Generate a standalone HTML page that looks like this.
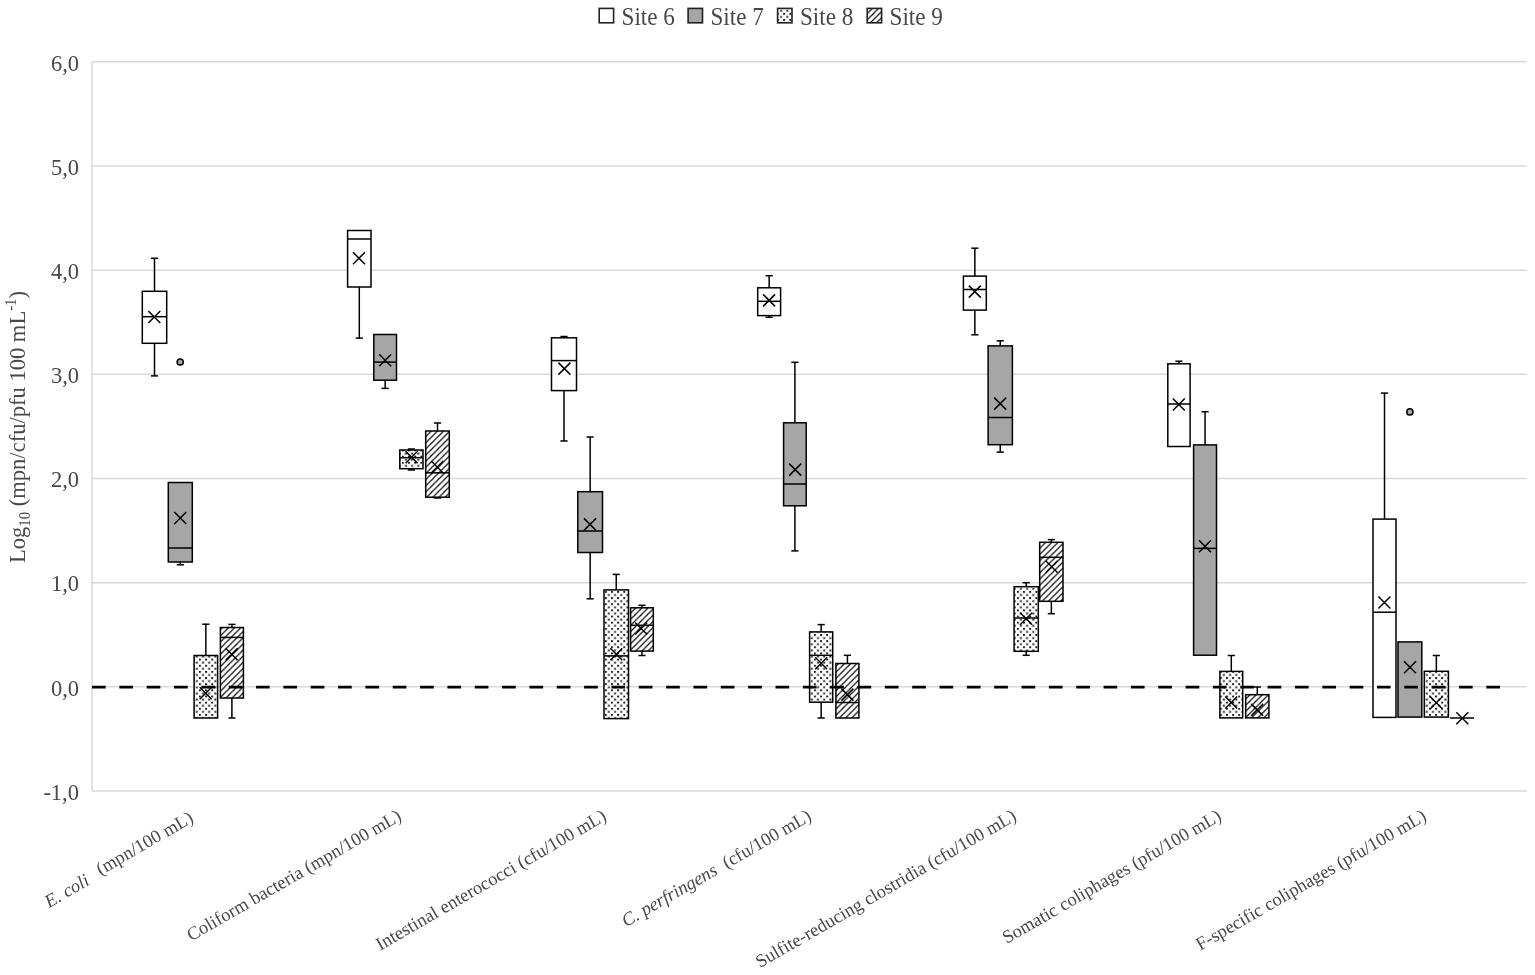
<!DOCTYPE html>
<html><head><meta charset="utf-8"><title>Box plot</title>
<style>
html,body{margin:0;padding:0;background:#fff;}
body{width:1535px;height:975px;overflow:hidden;}
svg{display:block;}
text{font-family:'Liberation Serif', 'Times New Roman', serif;fill:#484848;}
</style></head><body>
<svg width="1535" height="975" viewBox="0 0 1535 975">
<defs>
<pattern id="dots" patternUnits="userSpaceOnUse" x="2.175" y="0.6" width="6.15" height="6.15">
<rect width="6.15" height="6.15" fill="#fff"/>
<rect x="0" y="0" width="1.9" height="1.9" fill="#1a1a1a"/>
<rect x="3.075" y="3.075" width="1.9" height="1.9" fill="#1a1a1a"/>
</pattern>
<pattern id="diag" patternUnits="userSpaceOnUse" x="1.4" width="6.15" height="6.15">
<rect width="6.15" height="6.15" fill="#fff"/>
<path d="M-1,7.15 L7.15,-1 M-3,3 L3,-3 M3.15,9.15 L9.15,3.15" stroke="#000" stroke-width="1.15"/>
</pattern>
</defs>
<rect width="1535" height="975" fill="#fff"/>

<line x1="92.0" y1="791.01" x2="1527.0" y2="791.01" stroke="#d9d9d9" stroke-width="1.5"/>
<line x1="92.0" y1="686.84" x2="1527.0" y2="686.84" stroke="#d9d9d9" stroke-width="1.5"/>
<line x1="92.0" y1="582.67" x2="1527.0" y2="582.67" stroke="#d9d9d9" stroke-width="1.5"/>
<line x1="92.0" y1="478.50" x2="1527.0" y2="478.50" stroke="#d9d9d9" stroke-width="1.5"/>
<line x1="92.0" y1="374.33" x2="1527.0" y2="374.33" stroke="#d9d9d9" stroke-width="1.5"/>
<line x1="92.0" y1="270.16" x2="1527.0" y2="270.16" stroke="#d9d9d9" stroke-width="1.5"/>
<line x1="92.0" y1="165.99" x2="1527.0" y2="165.99" stroke="#d9d9d9" stroke-width="1.5"/>
<line x1="92.0" y1="61.82" x2="1527.0" y2="61.82" stroke="#d9d9d9" stroke-width="1.5"/>
<line x1="92.0" y1="61.82" x2="92.0" y2="791.01" stroke="#d9d9d9" stroke-width="1.5"/>
<text x="79" y="799.81" font-size="22.5" text-anchor="end">-1,0</text>
<text x="79" y="695.64" font-size="22.5" text-anchor="end">0,0</text>
<text x="79" y="591.47" font-size="22.5" text-anchor="end">1,0</text>
<text x="79" y="487.30" font-size="22.5" text-anchor="end">2,0</text>
<text x="79" y="383.13" font-size="22.5" text-anchor="end">3,0</text>
<text x="79" y="278.96" font-size="22.5" text-anchor="end">4,0</text>
<text x="79" y="174.79" font-size="22.5" text-anchor="end">5,0</text>
<text x="79" y="70.62" font-size="22.5" text-anchor="end">6,0</text>
<text transform="translate(24.6,427) rotate(-90) scale(0.94,1)" font-size="24" text-anchor="middle">Log<tspan font-size="15.8" dy="5.5">10</tspan><tspan dy="-5.5"> (mpn/cfu/pfu 100 mL</tspan><tspan font-size="15.8" dy="-8.7">-1</tspan><tspan dy="8.7">)</tspan></text>
<line x1="154.50" y1="258.30" x2="154.50" y2="291.30" stroke="#000" stroke-width="1.5"/>
<line x1="150.90" y1="258.30" x2="158.10" y2="258.30" stroke="#000" stroke-width="1.5"/>
<line x1="154.50" y1="343.30" x2="154.50" y2="375.90" stroke="#000" stroke-width="1.5"/>
<line x1="150.90" y1="375.90" x2="158.10" y2="375.90" stroke="#000" stroke-width="1.5"/>
<rect x="142.30" y="291.30" width="24.40" height="52.00" fill="#ffffff" stroke="#000" stroke-width="1.5"/>
<line x1="142.30" y1="316.70" x2="166.70" y2="316.70" stroke="#000" stroke-width="1.5"/>
<path d="M148.30,311.00L160.30,323.00M148.30,323.00L160.30,311.00" stroke="#000" stroke-width="1.5" fill="none"/>
<line x1="180.30" y1="562.00" x2="180.30" y2="564.80" stroke="#000" stroke-width="1.5"/>
<line x1="176.70" y1="564.80" x2="183.90" y2="564.80" stroke="#000" stroke-width="1.5"/>
<rect x="168.30" y="482.50" width="24.00" height="79.50" fill="#a6a6a6" stroke="#000" stroke-width="1.5"/>
<line x1="168.30" y1="548.00" x2="192.30" y2="548.00" stroke="#000" stroke-width="1.5"/>
<path d="M174.30,512.00L186.30,524.00M174.30,524.00L186.30,512.00" stroke="#000" stroke-width="1.5" fill="none"/>
<line x1="205.85" y1="624.20" x2="205.85" y2="655.50" stroke="#000" stroke-width="1.5"/>
<line x1="202.25" y1="624.20" x2="209.45" y2="624.20" stroke="#000" stroke-width="1.5"/>
<rect x="194.10" y="655.50" width="23.50" height="62.50" fill="url(#dots)" stroke="#000" stroke-width="1.5"/>
<path d="M199.70,687.20L211.70,699.20M199.70,699.20L211.70,687.20" stroke="#000" stroke-width="1.5" fill="none"/>
<line x1="231.90" y1="624.40" x2="231.90" y2="627.50" stroke="#000" stroke-width="1.5"/>
<line x1="228.30" y1="624.40" x2="235.50" y2="624.40" stroke="#000" stroke-width="1.5"/>
<line x1="231.90" y1="698.00" x2="231.90" y2="718.00" stroke="#000" stroke-width="1.5"/>
<line x1="228.30" y1="718.00" x2="235.50" y2="718.00" stroke="#000" stroke-width="1.5"/>
<rect x="220.40" y="627.50" width="23.00" height="70.50" fill="url(#diag)" stroke="#000" stroke-width="1.5"/>
<line x1="220.40" y1="637.40" x2="243.40" y2="637.40" stroke="#000" stroke-width="1.5"/>
<path d="M225.60,648.30L237.60,660.30M225.60,660.30L237.60,648.30" stroke="#000" stroke-width="1.5" fill="none"/>
<line x1="359.30" y1="287.00" x2="359.30" y2="338.10" stroke="#000" stroke-width="1.5"/>
<line x1="355.70" y1="338.10" x2="362.90" y2="338.10" stroke="#000" stroke-width="1.5"/>
<rect x="347.60" y="230.50" width="23.40" height="56.50" fill="#ffffff" stroke="#000" stroke-width="1.5"/>
<line x1="347.60" y1="239.00" x2="371.00" y2="239.00" stroke="#000" stroke-width="1.5"/>
<path d="M353.00,252.20L365.00,264.20M353.00,264.20L365.00,252.20" stroke="#000" stroke-width="1.5" fill="none"/>
<line x1="385.15" y1="380.20" x2="385.15" y2="388.40" stroke="#000" stroke-width="1.5"/>
<line x1="381.55" y1="388.40" x2="388.75" y2="388.40" stroke="#000" stroke-width="1.5"/>
<rect x="373.80" y="334.50" width="22.70" height="45.70" fill="#a6a6a6" stroke="#000" stroke-width="1.5"/>
<line x1="373.80" y1="362.10" x2="396.50" y2="362.10" stroke="#000" stroke-width="1.5"/>
<path d="M379.20,354.30L391.20,366.30M379.20,366.30L391.20,354.30" stroke="#000" stroke-width="1.5" fill="none"/>
<line x1="411.40" y1="449.00" x2="411.40" y2="450.00" stroke="#000" stroke-width="1.5"/>
<line x1="407.80" y1="449.00" x2="415.00" y2="449.00" stroke="#000" stroke-width="1.5"/>
<line x1="411.40" y1="468.70" x2="411.40" y2="470.00" stroke="#000" stroke-width="1.5"/>
<line x1="407.80" y1="470.00" x2="415.00" y2="470.00" stroke="#000" stroke-width="1.5"/>
<rect x="399.80" y="450.00" width="23.20" height="18.70" fill="url(#dots)" stroke="#000" stroke-width="1.5"/>
<line x1="399.80" y1="457.70" x2="423.00" y2="457.70" stroke="#000" stroke-width="1.5"/>
<path d="M405.60,451.20L417.60,463.20M405.60,463.20L417.60,451.20" stroke="#000" stroke-width="1.5" fill="none"/>
<line x1="437.50" y1="423.00" x2="437.50" y2="431.00" stroke="#000" stroke-width="1.5"/>
<line x1="433.90" y1="423.00" x2="441.10" y2="423.00" stroke="#000" stroke-width="1.5"/>
<line x1="437.50" y1="497.20" x2="437.50" y2="498.00" stroke="#000" stroke-width="1.5"/>
<line x1="433.90" y1="498.00" x2="441.10" y2="498.00" stroke="#000" stroke-width="1.5"/>
<rect x="425.70" y="431.00" width="23.60" height="66.20" fill="url(#diag)" stroke="#000" stroke-width="1.5"/>
<line x1="425.70" y1="472.80" x2="449.30" y2="472.80" stroke="#000" stroke-width="1.5"/>
<path d="M431.20,461.00L443.20,473.00M431.20,473.00L443.20,461.00" stroke="#000" stroke-width="1.5" fill="none"/>
<line x1="564.00" y1="336.50" x2="564.00" y2="337.80" stroke="#000" stroke-width="1.5"/>
<line x1="560.40" y1="336.50" x2="567.60" y2="336.50" stroke="#000" stroke-width="1.5"/>
<line x1="564.00" y1="390.60" x2="564.00" y2="441.00" stroke="#000" stroke-width="1.5"/>
<line x1="560.40" y1="441.00" x2="567.60" y2="441.00" stroke="#000" stroke-width="1.5"/>
<rect x="551.50" y="337.80" width="25.00" height="52.80" fill="#ffffff" stroke="#000" stroke-width="1.5"/>
<line x1="551.50" y1="360.60" x2="576.50" y2="360.60" stroke="#000" stroke-width="1.5"/>
<path d="M558.40,362.60L570.40,374.60M558.40,374.60L570.40,362.60" stroke="#000" stroke-width="1.5" fill="none"/>
<line x1="590.15" y1="437.00" x2="590.15" y2="491.70" stroke="#000" stroke-width="1.5"/>
<line x1="586.55" y1="437.00" x2="593.75" y2="437.00" stroke="#000" stroke-width="1.5"/>
<line x1="590.15" y1="552.50" x2="590.15" y2="598.80" stroke="#000" stroke-width="1.5"/>
<line x1="586.55" y1="598.80" x2="593.75" y2="598.80" stroke="#000" stroke-width="1.5"/>
<rect x="577.80" y="491.70" width="24.70" height="60.80" fill="#a6a6a6" stroke="#000" stroke-width="1.5"/>
<line x1="577.80" y1="531.00" x2="602.50" y2="531.00" stroke="#000" stroke-width="1.5"/>
<path d="M584.00,518.40L596.00,530.40M584.00,530.40L596.00,518.40" stroke="#000" stroke-width="1.5" fill="none"/>
<line x1="616.25" y1="574.40" x2="616.25" y2="589.90" stroke="#000" stroke-width="1.5"/>
<line x1="612.65" y1="574.40" x2="619.85" y2="574.40" stroke="#000" stroke-width="1.5"/>
<rect x="604.00" y="589.90" width="24.50" height="128.70" fill="url(#dots)" stroke="#000" stroke-width="1.5"/>
<line x1="604.00" y1="655.90" x2="628.50" y2="655.90" stroke="#000" stroke-width="1.5"/>
<path d="M610.30,648.30L622.30,660.30M610.30,660.30L622.30,648.30" stroke="#000" stroke-width="1.5" fill="none"/>
<line x1="641.95" y1="605.30" x2="641.95" y2="607.80" stroke="#000" stroke-width="1.5"/>
<line x1="638.35" y1="605.30" x2="645.55" y2="605.30" stroke="#000" stroke-width="1.5"/>
<line x1="641.95" y1="651.10" x2="641.95" y2="655.50" stroke="#000" stroke-width="1.5"/>
<line x1="638.35" y1="655.50" x2="645.55" y2="655.50" stroke="#000" stroke-width="1.5"/>
<rect x="630.60" y="607.80" width="22.70" height="43.30" fill="url(#diag)" stroke="#000" stroke-width="1.5"/>
<line x1="630.60" y1="625.30" x2="653.30" y2="625.30" stroke="#000" stroke-width="1.5"/>
<path d="M635.20,622.50L647.20,634.50M635.20,634.50L647.20,622.50" stroke="#000" stroke-width="1.5" fill="none"/>
<line x1="769.15" y1="275.70" x2="769.15" y2="287.80" stroke="#000" stroke-width="1.5"/>
<line x1="765.55" y1="275.70" x2="772.75" y2="275.70" stroke="#000" stroke-width="1.5"/>
<line x1="769.15" y1="315.60" x2="769.15" y2="317.30" stroke="#000" stroke-width="1.5"/>
<line x1="765.55" y1="317.30" x2="772.75" y2="317.30" stroke="#000" stroke-width="1.5"/>
<rect x="757.70" y="287.80" width="22.90" height="27.80" fill="#ffffff" stroke="#000" stroke-width="1.5"/>
<line x1="757.70" y1="301.30" x2="780.60" y2="301.30" stroke="#000" stroke-width="1.5"/>
<path d="M763.10,294.40L775.10,306.40M763.10,306.40L775.10,294.40" stroke="#000" stroke-width="1.5" fill="none"/>
<line x1="794.90" y1="362.30" x2="794.90" y2="422.80" stroke="#000" stroke-width="1.5"/>
<line x1="791.30" y1="362.30" x2="798.50" y2="362.30" stroke="#000" stroke-width="1.5"/>
<line x1="794.90" y1="505.80" x2="794.90" y2="550.90" stroke="#000" stroke-width="1.5"/>
<line x1="791.30" y1="550.90" x2="798.50" y2="550.90" stroke="#000" stroke-width="1.5"/>
<rect x="783.60" y="422.80" width="22.60" height="83.00" fill="#a6a6a6" stroke="#000" stroke-width="1.5"/>
<line x1="783.60" y1="484.00" x2="806.20" y2="484.00" stroke="#000" stroke-width="1.5"/>
<path d="M789.20,463.60L801.20,475.60M789.20,475.60L801.20,463.60" stroke="#000" stroke-width="1.5" fill="none"/>
<line x1="821.15" y1="624.60" x2="821.15" y2="631.90" stroke="#000" stroke-width="1.5"/>
<line x1="817.55" y1="624.60" x2="824.75" y2="624.60" stroke="#000" stroke-width="1.5"/>
<line x1="821.15" y1="702.20" x2="821.15" y2="718.00" stroke="#000" stroke-width="1.5"/>
<line x1="817.55" y1="718.00" x2="824.75" y2="718.00" stroke="#000" stroke-width="1.5"/>
<rect x="809.60" y="631.90" width="23.10" height="70.30" fill="url(#dots)" stroke="#000" stroke-width="1.5"/>
<line x1="809.60" y1="655.30" x2="832.70" y2="655.30" stroke="#000" stroke-width="1.5"/>
<path d="M815.20,657.30L827.20,669.30M815.20,669.30L827.20,657.30" stroke="#000" stroke-width="1.5" fill="none"/>
<line x1="847.40" y1="655.30" x2="847.40" y2="663.50" stroke="#000" stroke-width="1.5"/>
<line x1="843.80" y1="655.30" x2="851.00" y2="655.30" stroke="#000" stroke-width="1.5"/>
<rect x="835.90" y="663.50" width="23.00" height="54.50" fill="url(#diag)" stroke="#000" stroke-width="1.5"/>
<line x1="835.90" y1="702.50" x2="858.90" y2="702.50" stroke="#000" stroke-width="1.5"/>
<path d="M841.40,688.60L853.40,700.60M841.40,700.60L853.40,688.60" stroke="#000" stroke-width="1.5" fill="none"/>
<line x1="974.85" y1="248.20" x2="974.85" y2="276.10" stroke="#000" stroke-width="1.5"/>
<line x1="971.25" y1="248.20" x2="978.45" y2="248.20" stroke="#000" stroke-width="1.5"/>
<line x1="974.85" y1="310.10" x2="974.85" y2="334.80" stroke="#000" stroke-width="1.5"/>
<line x1="971.25" y1="334.80" x2="978.45" y2="334.80" stroke="#000" stroke-width="1.5"/>
<rect x="963.40" y="276.10" width="22.90" height="34.00" fill="#ffffff" stroke="#000" stroke-width="1.5"/>
<line x1="963.40" y1="289.50" x2="986.30" y2="289.50" stroke="#000" stroke-width="1.5"/>
<path d="M968.80,285.60L980.80,297.60M968.80,297.60L980.80,285.60" stroke="#000" stroke-width="1.5" fill="none"/>
<line x1="1000.25" y1="340.80" x2="1000.25" y2="345.90" stroke="#000" stroke-width="1.5"/>
<line x1="996.65" y1="340.80" x2="1003.85" y2="340.80" stroke="#000" stroke-width="1.5"/>
<line x1="1000.25" y1="444.70" x2="1000.25" y2="452.10" stroke="#000" stroke-width="1.5"/>
<line x1="996.65" y1="452.10" x2="1003.85" y2="452.10" stroke="#000" stroke-width="1.5"/>
<rect x="988.10" y="345.90" width="24.30" height="98.80" fill="#a6a6a6" stroke="#000" stroke-width="1.5"/>
<line x1="988.10" y1="417.50" x2="1012.40" y2="417.50" stroke="#000" stroke-width="1.5"/>
<path d="M994.20,397.60L1006.20,409.60M994.20,409.60L1006.20,397.60" stroke="#000" stroke-width="1.5" fill="none"/>
<line x1="1026.20" y1="582.70" x2="1026.20" y2="586.70" stroke="#000" stroke-width="1.5"/>
<line x1="1022.60" y1="582.70" x2="1029.80" y2="582.70" stroke="#000" stroke-width="1.5"/>
<line x1="1026.20" y1="651.30" x2="1026.20" y2="655.30" stroke="#000" stroke-width="1.5"/>
<line x1="1022.60" y1="655.30" x2="1029.80" y2="655.30" stroke="#000" stroke-width="1.5"/>
<rect x="1014.10" y="586.70" width="24.20" height="64.60" fill="url(#dots)" stroke="#000" stroke-width="1.5"/>
<line x1="1014.10" y1="618.00" x2="1038.30" y2="618.00" stroke="#000" stroke-width="1.5"/>
<path d="M1020.10,612.70L1032.10,624.70M1020.10,624.70L1032.10,612.70" stroke="#000" stroke-width="1.5" fill="none"/>
<line x1="1051.35" y1="539.60" x2="1051.35" y2="542.30" stroke="#000" stroke-width="1.5"/>
<line x1="1047.75" y1="539.60" x2="1054.95" y2="539.60" stroke="#000" stroke-width="1.5"/>
<line x1="1051.35" y1="601.30" x2="1051.35" y2="613.70" stroke="#000" stroke-width="1.5"/>
<line x1="1047.75" y1="613.70" x2="1054.95" y2="613.70" stroke="#000" stroke-width="1.5"/>
<rect x="1039.70" y="542.30" width="23.30" height="59.00" fill="url(#diag)" stroke="#000" stroke-width="1.5"/>
<line x1="1039.70" y1="557.30" x2="1063.00" y2="557.30" stroke="#000" stroke-width="1.5"/>
<path d="M1045.70,560.70L1057.70,572.70M1045.70,572.70L1057.70,560.70" stroke="#000" stroke-width="1.5" fill="none"/>
<line x1="1178.95" y1="361.20" x2="1178.95" y2="363.80" stroke="#000" stroke-width="1.5"/>
<line x1="1175.35" y1="361.20" x2="1182.55" y2="361.20" stroke="#000" stroke-width="1.5"/>
<rect x="1167.80" y="363.80" width="22.30" height="82.70" fill="#ffffff" stroke="#000" stroke-width="1.5"/>
<line x1="1167.80" y1="404.00" x2="1190.10" y2="404.00" stroke="#000" stroke-width="1.5"/>
<path d="M1172.80,398.50L1184.80,410.50M1172.80,410.50L1184.80,398.50" stroke="#000" stroke-width="1.5" fill="none"/>
<line x1="1205.05" y1="411.70" x2="1205.05" y2="444.90" stroke="#000" stroke-width="1.5"/>
<line x1="1201.45" y1="411.70" x2="1208.65" y2="411.70" stroke="#000" stroke-width="1.5"/>
<rect x="1193.60" y="444.90" width="22.90" height="210.30" fill="#a6a6a6" stroke="#000" stroke-width="1.5"/>
<line x1="1193.60" y1="548.40" x2="1216.50" y2="548.40" stroke="#000" stroke-width="1.5"/>
<path d="M1199.00,540.30L1211.00,552.30M1199.00,552.30L1211.00,540.30" stroke="#000" stroke-width="1.5" fill="none"/>
<line x1="1231.30" y1="655.50" x2="1231.30" y2="671.40" stroke="#000" stroke-width="1.5"/>
<line x1="1227.70" y1="655.50" x2="1234.90" y2="655.50" stroke="#000" stroke-width="1.5"/>
<rect x="1219.90" y="671.40" width="22.80" height="46.50" fill="url(#dots)" stroke="#000" stroke-width="1.5"/>
<path d="M1225.20,696.50L1237.20,708.50M1225.20,708.50L1237.20,696.50" stroke="#000" stroke-width="1.5" fill="none"/>
<line x1="1257.30" y1="687.00" x2="1257.30" y2="694.70" stroke="#000" stroke-width="1.5"/>
<line x1="1253.70" y1="687.00" x2="1260.90" y2="687.00" stroke="#000" stroke-width="1.5"/>
<rect x="1245.70" y="694.70" width="23.20" height="23.20" fill="url(#diag)" stroke="#000" stroke-width="1.5"/>
<path d="M1251.20,703.90L1263.20,715.90M1251.20,715.90L1263.20,703.90" stroke="#000" stroke-width="1.5" fill="none"/>
<line x1="1384.50" y1="393.10" x2="1384.50" y2="519.10" stroke="#000" stroke-width="1.5"/>
<line x1="1380.90" y1="393.10" x2="1388.10" y2="393.10" stroke="#000" stroke-width="1.5"/>
<rect x="1373.00" y="519.10" width="23.00" height="198.30" fill="#ffffff" stroke="#000" stroke-width="1.5"/>
<line x1="1373.00" y1="612.20" x2="1396.00" y2="612.20" stroke="#000" stroke-width="1.5"/>
<path d="M1378.40,596.50L1390.40,608.50M1378.40,608.50L1390.40,596.50" stroke="#000" stroke-width="1.5" fill="none"/>
<rect x="1398.00" y="641.90" width="23.80" height="75.20" fill="#a6a6a6" stroke="#000" stroke-width="1.5"/>
<path d="M1404.00,661.30L1416.00,673.30M1404.00,673.30L1416.00,661.30" stroke="#000" stroke-width="1.5" fill="none"/>
<line x1="1436.35" y1="655.50" x2="1436.35" y2="671.30" stroke="#000" stroke-width="1.5"/>
<line x1="1432.75" y1="655.50" x2="1439.95" y2="655.50" stroke="#000" stroke-width="1.5"/>
<rect x="1424.30" y="671.30" width="24.10" height="45.80" fill="url(#dots)" stroke="#000" stroke-width="1.5"/>
<path d="M1430.30,696.80L1442.30,708.80M1430.30,708.80L1442.30,696.80" stroke="#000" stroke-width="1.5" fill="none"/>
<line x1="1450.00" y1="718.00" x2="1474.00" y2="718.00" stroke="#000" stroke-width="1.5"/>
<path d="M1456.30,712.30L1468.30,724.30M1456.30,724.30L1468.30,712.30" stroke="#000" stroke-width="1.5" fill="none"/>
<circle cx="180.2" cy="362.0" r="3.1" fill="#a6a6a6" stroke="#000" stroke-width="1.5"/>
<circle cx="1409.9" cy="411.9" r="3.1" fill="#a6a6a6" stroke="#000" stroke-width="1.5"/>
<line x1="92" y1="687.2" x2="1500" y2="687.2" stroke="#000" stroke-width="2.8" stroke-dasharray="13.67 13.67"/>
<rect x="599.20" y="8.4" width="14.4" height="14.4" fill="#fff" stroke="#222" stroke-width="1.6"/>
<text transform="translate(621.50,24.6) scale(0.95,1)" font-size="24.4">Site 6</text>
<rect x="688.10" y="8.4" width="14.4" height="14.4" fill="#a6a6a6" stroke="#222" stroke-width="1.6"/>
<text transform="translate(710.40,24.6) scale(0.95,1)" font-size="24.4">Site 7</text>
<rect x="777.60" y="8.4" width="14.4" height="14.4" fill="url(#dots)" stroke="#222" stroke-width="1.6"/>
<text transform="translate(799.90,24.6) scale(0.95,1)" font-size="24.4">Site 8</text>
<rect x="867.20" y="8.4" width="14.4" height="14.4" fill="url(#diag)" stroke="#222" stroke-width="1.6"/>
<text transform="translate(889.50,24.6) scale(0.95,1)" font-size="24.4">Site 9</text>
<text transform="translate(197.50,819.5) rotate(-30)" font-size="18.5" text-anchor="end"><tspan font-style='italic' dx='-3.5' dy='2.5'>E. coli</tspan><tspan dx='3.5' dy='-2.5'>  (mpn/100 mL)</tspan></text>
<text transform="translate(402.50,819.5) rotate(-30)" font-size="18.5" text-anchor="end">Coliform bacteria (mpn/100 mL)</text>
<text transform="translate(607.50,819.5) rotate(-30)" font-size="18.5" text-anchor="end">Intestinal enterococci (cfu/100 mL)</text>
<text transform="translate(812.50,819.5) rotate(-30)" font-size="18.5" text-anchor="end"><tspan font-style='italic'>C. perfringens</tspan>  (cfu/100 mL)</text>
<text transform="translate(1017.50,819.5) rotate(-30)" font-size="18.5" text-anchor="end">Sulfite-reducing clostridia (cfu/100 mL)</text>
<text transform="translate(1222.50,819.5) rotate(-30)" font-size="18.5" text-anchor="end">Somatic coliphages (pfu/100 mL)</text>
<text transform="translate(1427.50,819.5) rotate(-30)" font-size="18.5" text-anchor="end">F-specific coliphages (pfu/100 mL)</text>
</svg>
</body></html>
